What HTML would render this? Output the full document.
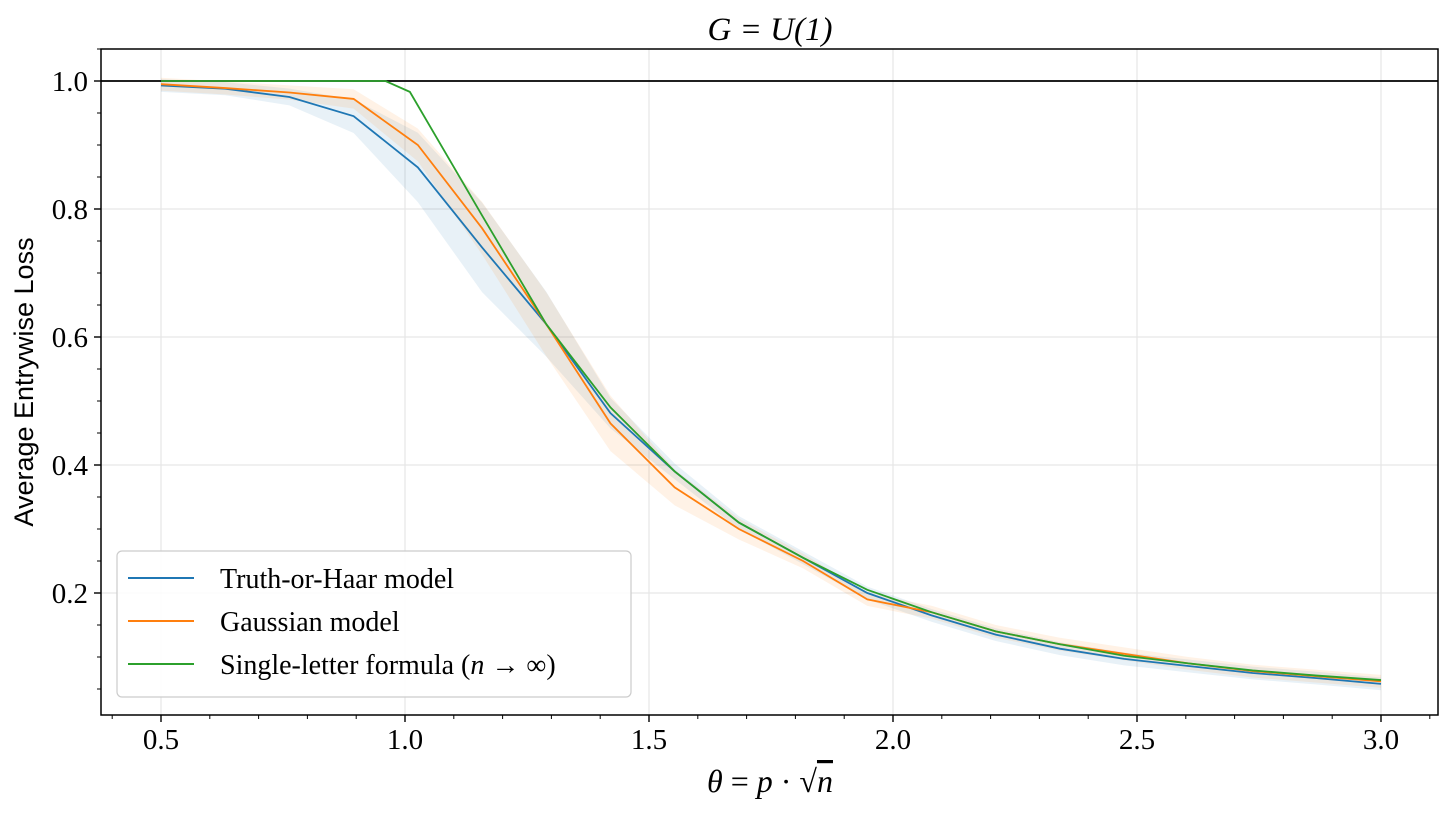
<!DOCTYPE html>
<html><head><meta charset="utf-8"><style>
body{margin:0;background:#fff}
svg text{font-family:"Liberation Serif",serif}
</style></head><body>
<svg id="s" width="1451" height="810" xmlns="http://www.w3.org/2000/svg">
<rect width="1451" height="810" fill="#fff"/>
<g id="grid"></g>
<g id="bands"></g>
<line x1="101" x2="1438" y1="81" y2="81" stroke="#000" stroke-width="1.8"/>
<g id="lines"></g>
<rect x="101" y="49" width="1337" height="666" fill="none" stroke="#000" stroke-width="1.5"/>
<g id="ticks"></g>
<text x="770" y="40" font-size="33" text-anchor="middle" font-style="italic">G = U(1)</text>
<text x="770" y="792" font-size="32" text-anchor="middle"><tspan font-style="italic">θ</tspan> = <tspan font-style="italic">p</tspan> · √<tspan font-style="italic" text-decoration="overline">n</tspan></text>
<text transform="translate(33,382) rotate(-90)" font-size="27" text-anchor="middle" style="font-family:'Liberation Sans',sans-serif">Average Entrywise Loss</text>
<rect x="117" y="551" width="514" height="146" rx="5" fill="#fff" fill-opacity="0.85" stroke="#ccc" stroke-width="1.2"/>
<line x1="128" x2="194" y1="578" y2="578" stroke="#1f77b4" stroke-width="2"/>
<line x1="128" x2="194" y1="621" y2="621" stroke="#ff7f0e" stroke-width="2"/>
<line x1="128" x2="194" y1="664" y2="664" stroke="#2ca02c" stroke-width="2"/>
<g font-size="28" style="font-family:'Liberation Sans',sans-serif">
<text x="220" y="588">Truth-or-Haar model</text>
<text x="220" y="631">Gaussian model</text>
<text x="220" y="674">Single-letter formula (<tspan font-style="italic" style="font-family:'Liberation Serif',serif">n</tspan> → ∞)</text>
</g>
</svg>
<script>
const X=v=>161+(v-0.5)*488, Y=v=>721-v*640;
const ns="http://www.w3.org/2000/svg";
function el(p,t,a){const e=document.createElementNS(ns,t);for(const k in a)e.setAttribute(k,a[k]);document.getElementById(p).appendChild(e);return e;}
for(let v=0.5;v<=3.01;v+=0.5)el("grid","line",{x1:X(v),x2:X(v),y1:49,y2:715,stroke:"#e6e6e6","stroke-width":1.2});
for(let v=0.2;v<=1.01;v+=0.2)el("grid","line",{x1:101,x2:1438,y1:Y(v),y2:Y(v),stroke:"#e6e6e6","stroke-width":1.2});
const xs=[];for(let i=0;i<20;i++)xs.push(0.5+i*2.5/19);
const B=[0.993,0.988,0.975,0.945,0.865,0.74,0.62,0.481,0.39,0.31,0.255,0.20,0.165,0.135,0.113,0.097,0.086,0.075,0.067,0.058];
const O=[0.995,0.989,0.982,0.972,0.90,0.77,0.62,0.465,0.365,0.30,0.25,0.19,0.17,0.14,0.12,0.105,0.09,0.078,0.07,0.062];
const Gx=[0.5,0.63,0.76,0.89,0.96,1.01].concat(xs.slice(5));
const G=[1.0,1.0,1.0,1.0,1.0,0.983,0.79,0.62,0.49,0.39,0.31,0.255,0.205,0.17,0.14,0.12,0.102,0.09,0.079,0.071,0.064];
function band(xv,yv,w,c){let up=[],dn=[];xv.forEach((x,i)=>{const d=w(x,yv[i]);up.push(X(x)+","+Y(yv[i]+d));dn.unshift(X(x)+","+Y(yv[i]-d));});
el("bands","polygon",{points:up.concat(dn).join(" "),fill:c,"fill-opacity":0.1});}
const wb=(x,y)=>Math.max(0.006,0.06*Math.exp(-((x-1.15)**2)/0.05)+0.01);
const wo=(x,y)=>Math.max(0.006,0.04*Math.exp(-((x-1.3)**2)/0.08)+0.01);
band(xs,B,wb,"#1f77b4");band(xs,O,wo,"#ff7f0e");
function line(xv,yv,c){el("lines","polyline",{points:xv.map((x,i)=>X(x)+","+Y(yv[i])).join(" "),fill:"none",stroke:c,"stroke-width":1.8});}
line(xs,B,"#1f77b4");line(xs,O,"#ff7f0e");line(Gx,G,"#2ca02c");
for(let v=0.4;v<=3.101;v+=0.1){const major=Math.abs(v*2-Math.round(v*2))<1e-6;el("ticks","line",{x1:X(v),x2:X(v),y1:715,y2:715+(major?7:4),stroke:"#000","stroke-width":major?1.4:1});
if(major){const t=el("ticks","text",{x:X(v),y:749,"font-size":29,"text-anchor":"middle"});t.textContent=v.toFixed(1);}}
for(let v=0.05;v<=1.051;v+=0.05){const major=Math.abs(v*5-Math.round(v*5))<1e-6;el("ticks","line",{x1:101,x2:101-(major?7:4),y1:Y(v),y2:Y(v),stroke:"#000","stroke-width":major?1.4:1});
if(major){const t=el("ticks","text",{x:88,y:Y(v)+10,"font-size":29,"text-anchor":"end"});t.textContent=v.toFixed(1);}}
</script>
</body></html>
